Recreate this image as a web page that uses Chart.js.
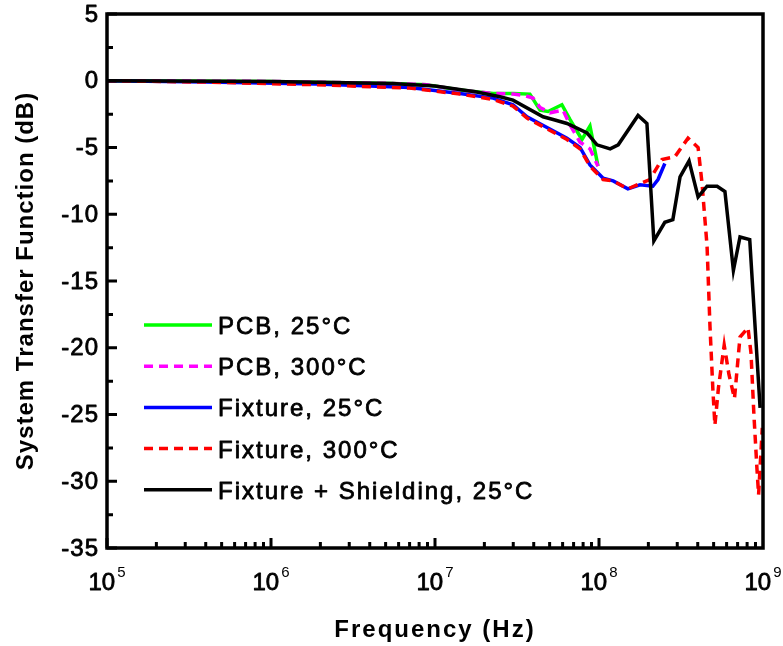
<!DOCTYPE html>
<html>
<head>
<meta charset="utf-8">
<script src="https://cdn.jsdelivr.net/npm/chart.js@4.4.0/dist/chart.umd.min.js"></script>
<style>
html, body { margin: 0; padding: 0; background: #fff; }
canvas { display: block; }
</style>
</head>
<body>
<canvas id="myChart" width="783" height="646"></canvas>
<script>
// series labels
var seriesNames = ["PCB, 25°C", "PCB, 300°C", "Fixture, 25°C", "Fixture, 300°C", "Fixture + Shielding, 25°C"]

// PCB, 25°C
var pcb25Freq = [1e5, 1e6, 5.5e6, 8.9e6, 1.42e7, 2.26e7, 3.0e7, 3.79e7, 4.37e7, 4.89e7, 5.94e7, 6.65e7, 7.87e7, 8.81e7, 9.86e7]
var pcb25Val = [0, -0.05, -0.2, -0.3, -0.7, -0.95, -0.95, -1.0, -2.2, -2.3, -1.8, -2.9, -4.4, -3.4, -6.4]

// PCB, 300°C
var pcb300Freq = [1e5, 1e6, 5.5e6, 8.9e6, 1.42e7, 2.26e7, 3.0e7, 3.5e7, 3.96e7, 4.37e7, 5.02e7, 6.03e7, 6.65e7, 7.66e7, 8.81e7, 9.86e7]
var pcb300Val = [0, -0.05, -0.2, -0.3, -0.7, -0.95, -1.0, -1.1, -1.3, -2.0, -2.4, -2.2, -3.3, -4.6, -5.1, -6.4]

// Fixture, 25°C
var fix25Freq = [1e5, 4e5, 1.9e6, 7.0e6, 1.42e7, 2.26e7, 2.99e7, 3.64e7, 4.82e7, 6.38e7, 7.66e7, 8.81e7, 1.06e8, 1.22e8, 1.5e8, 1.78e8, 2.13e8, 2.29e8, 2.52e8]
var fix25Val = [0, -0.1, -0.25, -0.5, -0.95, -1.3, -1.8, -2.7, -3.5, -4.3, -5.0, -6.3, -7.3, -7.5, -8.1, -7.8, -7.9, -7.4, -6.2]

// Fixture, 300°C
var fix300Freq = [1e5, 4e5, 1.9e6, 7.0e6, 1.42e7, 2.26e7, 2.99e7, 3.64e7, 4.82e7, 6.38e7, 7.66e7, 8.81e7, 1.06e8, 1.22e8, 1.5e8, 1.78e8, 2.04e8, 2.42e8, 2.9e8, 3.49e8, 4.02e8, 4.25e8, 4.56e8, 4.75e8, 4.95e8, 5.09e8, 5.35e8, 5.8e8, 6.2e8, 6.7e8, 7.24e8, 8.1e8, 8.45e8, 8.8e8, 9.18e8, 9.4e8, 9.9e8]
var fix300Val = [0, -0.1, -0.3, -0.55, -1.0, -1.4, -1.9, -2.8, -3.6, -4.4, -5.1, -6.4, -7.4, -7.5, -8.1, -7.7, -7.4, -5.9, -5.7, -4.3, -5.0, -7.7, -12.4, -18.4, -23.2, -25.8, -23.0, -19.8, -22.0, -23.8, -19.2, -18.5, -20.4, -25.0, -29.0, -31.0, -26.0]

// Fixture + Shielding, 25°C
var fixShFreq = [1e5, 1e6, 5.5e6, 1.0e7, 1.8e7, 2.49e7, 2.99e7, 4.56e7, 5.25e7, 6.38e7, 8.45e7, 9.72e7, 1.17e8, 1.31e8, 1.73e8, 1.96e8, 2.16e8, 2.52e8, 2.82e8, 3.12e8, 3.54e8, 4.02e8, 4.56e8, 5.25e8, 5.86e8, 6.6e8, 7.24e8, 8.3e8, 9.6e8]
var fixShVal = [0, -0.05, -0.2, -0.4, -0.85, -1.2, -1.45, -2.7, -2.9, -3.2, -3.9, -4.8, -5.1, -4.8, -2.6, -3.2, -12.0, -10.6, -10.4, -7.2, -6.0, -8.7, -7.9, -7.9, -8.3, -14.2, -11.7, -11.9, -24.5]

// axis ticks
var yTickLabels = [5, 0, -5, -10, -15, -20, -25, -30, -35]
var xDecades = [5, 6, 7, 8, 9]

var FONT = "'Liberation Sans', Arial, sans-serif"

function pts(freq, vals) {
    var out = []
    for (let i = 0; i < freq.length; i++) {
        out.push({ x: freq[i], y: vals[i] })
    }
    return out
}

function line(label, freq, vals, color, dash, order) {
    return {
        label: label,
        data: pts(freq, vals),
        borderColor: color,
        backgroundColor: color,
        borderWidth: 3.5,
        borderDash: dash,
        borderCapStyle: "butt",
        pointRadius: 0,
        tension: 0,
        fill: false,
        order: order
    }
}

// fill + thin stroke, the original text is a bit heavier than plain regular
function heavyText(ctx, txt, x, y) {
    ctx.fillText(txt, x, y)
    ctx.strokeText(txt, x, y)
}

var frame = {
    id: "frame",
    afterDatasetsDraw: function (chart) {
        var ctx = chart.ctx
        var a = chart.chartArea
        var xs = chart.scales.x
        var ys = chart.scales.y
        ctx.save()
        ctx.strokeStyle = "#000"
        ctx.fillStyle = "#000"
        ctx.lineWidth = 3

        // inward ticks, left axis
        ctx.beginPath()
        for (let v = -35; v <= 5; v += 2.5) {
            let py = ys.getPixelForValue(v)
            let len = (v % 5 === 0) ? 10 : 6
            ctx.moveTo(a.left, py)
            ctx.lineTo(a.left + len, py)
        }
        // inward ticks, bottom axis
        for (let d = 5; d <= 8; d++) {
            for (let m = 1; m <= 9; m++) {
                let px = xs.getPixelForValue(m * Math.pow(10, d))
                let len = m === 1 ? 10 : 6
                ctx.moveTo(px, a.bottom)
                ctx.lineTo(px, a.bottom - len)
            }
        }
        ctx.stroke()

        // frame
        ctx.lineWidth = 3.5
        ctx.strokeRect(a.left, a.top, a.right - a.left, a.bottom - a.top)

        ctx.lineWidth = 0.8
        ctx.lineJoin = "round"

        // y tick labels
        ctx.font = "24px " + FONT
        ctx.letterSpacing = "1px"
        ctx.textAlign = "right"
        ctx.textBaseline = "middle"
        yTickLabels.forEach(function (v) {
            heavyText(ctx, String(v), a.left - 8, ys.getPixelForValue(v) + 1)
        })

        // x tick labels 10^n
        ctx.letterSpacing = "0px"
        ctx.textAlign = "left"
        ctx.textBaseline = "alphabetic"
        xDecades.forEach(function (d) {
            let px = xs.getPixelForValue(Math.pow(10, d))
            ctx.font = "24px " + FONT
            let w10 = ctx.measureText("10").width
            ctx.font = "15px " + FONT
            let we = ctx.measureText(String(d)).width
            let x0 = px - (w10 + 2 + we) / 2
            ctx.font = "24px " + FONT
            heavyText(ctx, "10", x0, 590)
            ctx.font = "15px " + FONT
            ctx.fillText(String(d), x0 + w10 + 2, 577)
        })

        // axis titles
        ctx.font = "bold 24px " + FONT
        ctx.letterSpacing = "2px"
        ctx.textAlign = "center"
        ctx.fillText("Frequency (Hz)", (a.left + a.right) / 2, 637)

        ctx.save()
        ctx.letterSpacing = "1px"
        ctx.translate(33, (a.top + a.bottom) / 2)
        ctx.rotate(-Math.PI / 2)
        ctx.fillText("System Transfer Function (dB)", 0, 0)
        ctx.restore()

        // legend
        ctx.font = "24px " + FONT
        ctx.letterSpacing = "2px"
        ctx.textAlign = "left"
        chart.data.datasets.forEach(function (ds, i) {
            let ry = 325 + i * 41.2
            ctx.save()
            ctx.strokeStyle = ds.borderColor
            ctx.lineWidth = 3.5
            ctx.setLineDash(ds.borderDash || [])
            ctx.beginPath()
            ctx.moveTo(144, ry)
            ctx.lineTo(212, ry)
            ctx.stroke()
            ctx.restore()
            heavyText(ctx, ds.label, 218, ry + 9)
        })

        ctx.restore()
    }
}

new Chart("myChart", {
    type: "line",
    data: {
        datasets: [
            line(seriesNames[0], pcb25Freq, pcb25Val, "#00ff00", [], 5),
            line(seriesNames[1], pcb300Freq, pcb300Val, "#ff00ff", [9, 6], 4),
            line(seriesNames[2], fix25Freq, fix25Val, "#0000ff", [], 3),
            line(seriesNames[3], fix300Freq, fix300Val, "#ff0000", [9, 6], 2),
            line(seriesNames[4], fixShFreq, fixShVal, "#000000", [], 1)
        ]
    },
    options: {
        responsive: false,
        animation: false,
        events: [],
        layout: { padding: { left: 107, right: 20, top: 14, bottom: 98 } },
        scales: {
            x: { type: "logarithmic", min: 1e5, max: 1e9, display: false },
            y: { type: "linear", min: -35, max: 5, display: false }
        },
        plugins: {
            legend: { display: false },
            tooltip: { enabled: false }
        }
    },
    plugins: [frame]
})
</script>
</body>
</html>
